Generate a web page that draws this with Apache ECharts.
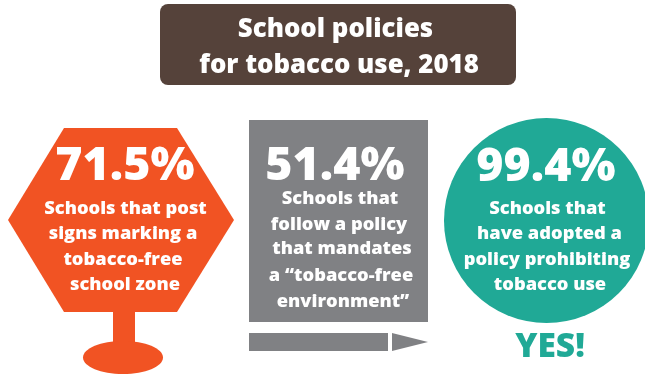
<!DOCTYPE html>
<html>
<head>
<meta charset="utf-8">
<style>html,body{margin:0;padding:0;background:#fff;overflow:hidden}#main{width:645px;height:374px}</style>
<script src="https://cdn.jsdelivr.net/npm/echarts@6/dist/echarts.min.js"></script>
</head>
<body>
<div id="main"></div>
<script>
// School tobacco policy figures, 2018
const titleLines = ['School policies', 'for tobacco use, 2018'];
const percents = [71.5, 51.4, 99.4];
const captionSign = ['Schools that post', 'signs marking a', 'tobacco-free', 'school zone'];
const captionPencil = ['Schools that', 'follow a policy', 'that mandates', 'a “tobacco-free', 'environment”'];
const captionCircle = ['Schools that', 'have adopted a', 'policy prohibiting', 'tobacco use'];
const verdict = 'YES!';

const FONT = '"Open Sans", sans-serif';
const ORANGE = '#f15323', GREY = '#808184', TEAL = '#20a996', BROWN = '#55423a';

// Places a line by its baseline; text is laid out from the top of its line box.
function label(text, x, baseline, size, fill) {
  return {
    type: 'text', silent: true,
    style: {
      text: text, x: x, y: baseline - 0.8 * size, fill: fill || '#fff',
      font: '800 ' + size + 'px ' + FONT,
      textAlign: 'center', textBaseline: 'top'
    }
  };
}
function lines(list, xs, ys, size) {
  return list.map((t, i) => label(t, xs[i], ys[i], size));
}
const pct = v => v.toFixed(1) + '%';

const elements = [
  // heading plate
  { type: 'rect', shape: { x: 160, y: 4, width: 356, height: 81, r: 8 }, style: { fill: BROWN } },
  label(titleLines[0], 335.5, 37, 25.8),
  label(titleLines[1], 339, 73.5, 25.8),

  // road sign on a post
  { type: 'rect', shape: { x: 113, y: 310, width: 22, height: 36 }, style: { fill: ORANGE } },
  { type: 'ellipse', shape: { cx: 123, cy: 357.5, rx: 40, ry: 16.5 }, style: { fill: ORANGE } },
  { type: 'polygon', shape: { points: [[64, 128], [177, 128], [234, 220], [177, 312], [64, 312], [8, 220]] }, style: { fill: ORANGE } },
  label(pct(percents[0]), 125, 180, 46.5),
  ...lines(captionSign, [125.5, 123, 123, 125], [214, 239, 265, 290], 18.3),

  // pencil: block, shaft and tip
  { type: 'rect', shape: { x: 249, y: 120, width: 179, height: 202 }, style: { fill: GREY } },
  { type: 'rect', shape: { x: 249, y: 333, width: 139, height: 18 }, style: { fill: GREY } },
  { type: 'polygon', shape: { points: [[392, 333], [428, 342], [392, 351]] }, style: { fill: GREY } },
  label(pct(percents[1]), 335, 180, 46.5),
  ...lines(captionPencil, [340, 339, 342, 341, 343], [204, 230, 254, 281, 307], 18.3),

  // circle
  { type: 'circle', shape: { cx: 546.5, cy: 220.5, r: 102.5 }, style: { fill: TEAL } },
  label(pct(percents[2]), 546, 181, 46.5),
  ...lines(captionCircle, [547.5, 549.5, 547, 550], [214, 239, 265, 290], 18.3),
  label(verdict, 550, 357, 33.5, TEAL)
];

const chart = echarts.init(document.getElementById('main'), null, { renderer: 'canvas' });
chart.setOption({ animation: false, backgroundColor: '#fff', graphic: { elements: elements } });
</script>
</body>
</html>
